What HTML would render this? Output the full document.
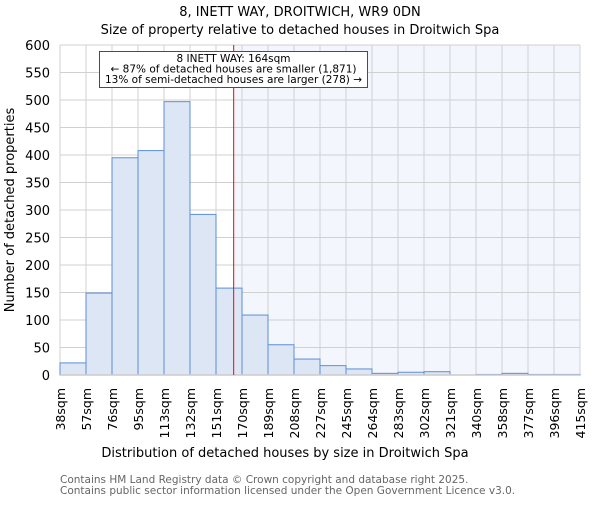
<!DOCTYPE html>
<html><head><meta charset="utf-8"><style>
body{margin:0;background:#fff;}
svg{font-family:"DejaVu Sans","Liberation Sans",sans-serif;}
</style></head><body>
<svg id="chart" width="600" height="500" xmlns="http://www.w3.org/2000/svg">
<text x="300" y="16" text-anchor="middle" font-size="13" fill="#000">8, INETT WAY, DROITWICH, WR9 0DN</text>
<text x="300" y="34" text-anchor="middle" font-size="13" fill="#000">Size of property relative to detached houses in Droitwich Spa</text>
<g id="plot"></g>
<text x="285" y="457" text-anchor="middle" font-size="13" fill="#000">Distribution of detached houses by size in Droitwich Spa</text>
<text transform="translate(14,210) rotate(-90)" text-anchor="middle" font-size="13" fill="#000">Number of detached properties</text>
<text x="60" y="483" font-size="10.5" fill="#666">Contains HM Land Registry data © Crown copyright and database right 2025.</text>
<text x="60" y="494" font-size="10.5" fill="#666">Contains public sector information licensed under the Open Government Licence v3.0.</text>
</svg>
<script>
const binLabels=["38sqm","57sqm","76sqm","95sqm","113sqm","132sqm","151sqm","170sqm","189sqm","208sqm","227sqm","245sqm","264sqm","283sqm","302sqm","321sqm","340sqm","358sqm","377sqm","396sqm","415sqm"];
const counts=[22,149,395,408,497,292,158,109,55,29,17,11,3,5,6,0,1,3,1,1];
const yTicks=[0,50,100,150,200,250,300,350,400,450,500,550,600];
const propertyIndex=6.68;
const NS="http://www.w3.org/2000/svg";
const L=60,R=580,T=45,B=375,yMax=600;
const n=counts.length;
const bw=(R-L)/n;
const xs=i=>L+i*bw;
const ys=v=>B-(v/yMax)*(B-T);
const g=document.getElementById('plot');
function mk(tag,attrs){const e=document.createElementNS(NS,tag);for(const k in attrs)e.setAttribute(k,attrs[k]);g.appendChild(e);return e;}
const px=xs(propertyIndex);
let e=mk('rect',{x:px,y:T,width:R-px,height:B-T,fill:'#f3f6fc'});


yTicks.forEach(t=>{
 let l=mk('line',{x1:L,x2:R,y1:ys(t),y2:ys(t),stroke:'#d0d0d0','stroke-width':1});
 
 
 let tx=mk('text',{x:L-10,y:ys(t)+5,'text-anchor':'end','font-size':13,fill:'#000'});
 tx.textContent=t;
 
 
});
binLabels.forEach((lab,i)=>{
 let l=mk('line',{x1:xs(i),x2:xs(i),y1:T,y2:B,stroke:'#d0d0d0','stroke-width':1});
 
 
 let tx=mk('text',{transform:`translate(${xs(i)+5},388) rotate(-90)`,'text-anchor':'end','font-size':12.5,fill:'#000'});
 tx.textContent=lab;
 
 
});
counts.forEach((v,i)=>{
 let r=mk('rect',{x:xs(i),y:ys(v),width:bw,height:B-ys(v),fill:'#dce6f4',stroke:'#5b8fd6','stroke-width':1});
 
 
});
e=mk('line',{x1:L,x2:R,y1:B,y2:B,stroke:'#cccccc','stroke-width':1.5});


e=mk('line',{x1:px,x2:px,y1:T,y2:B,stroke:'red','stroke-width':1});


e=mk('rect',{x:99.5,y:51.5,width:268,height:36,fill:'#fff',stroke:'red','stroke-width':1});


["8 INETT WAY: 164sqm","← 87% of detached houses are smaller (1,871)","13% of semi-detached houses are larger (278) →"].forEach((s,i)=>{
 let t=mk('text',{x:233.5,y:62+i*10.5,'text-anchor':'middle','font-size':10.5,fill:'#000'});
 t.textContent=s;
 
 
});
</script>
</body></html>
